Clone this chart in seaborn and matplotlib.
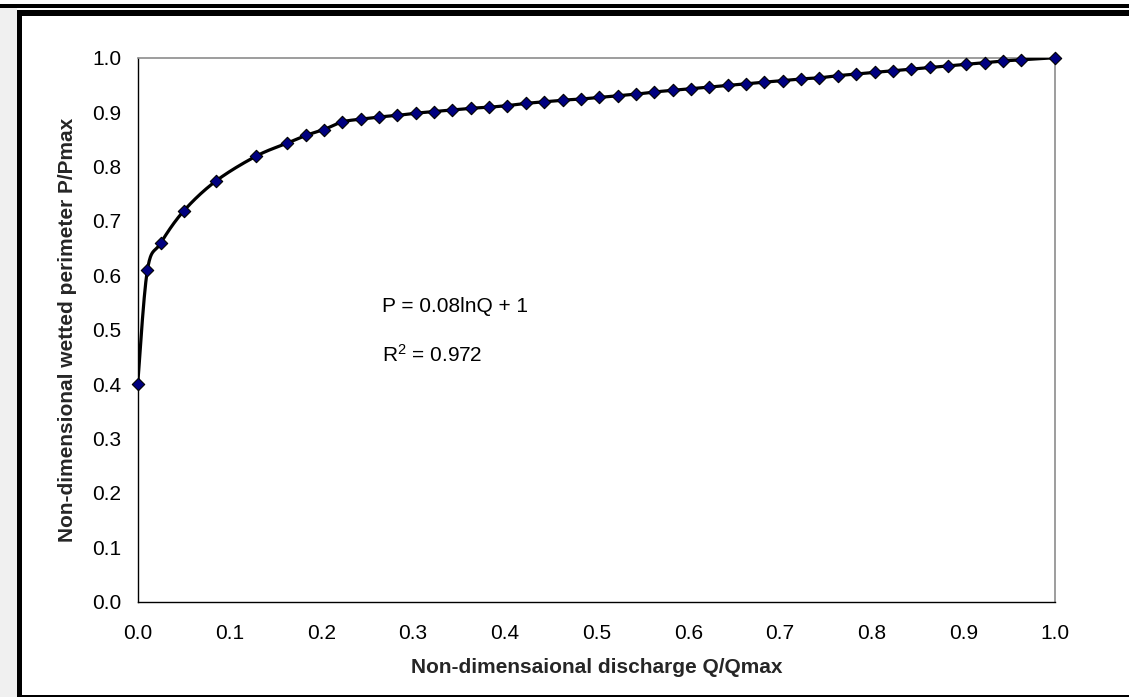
import numpy as np
import pandas as pd
import matplotlib
matplotlib.use("Agg")
import matplotlib.pyplot as plt
from matplotlib.patches import Rectangle
import seaborn as sns

# ---- data ----
q_values = [0.0, 0.0105, 0.025, 0.05, 0.085, 0.129,
            0.163, 0.183, 0.203, 0.223, 0.243, 0.263, 0.283, 0.303,
            0.323, 0.343, 0.363, 0.383, 0.403, 0.423, 0.443, 0.463,
            0.483, 0.503, 0.523, 0.543, 0.563, 0.583, 0.603,
            0.623, 0.643, 0.663, 0.683, 0.703, 0.723, 0.743, 0.763,
            0.783, 0.803, 0.823, 0.843, 0.863, 0.883, 0.903, 0.923,
            0.943, 0.963, 1.0]
p_values = [0.400, 0.609, 0.659, 0.718, 0.773, 0.819,
            0.843, 0.857, 0.868, 0.882, 0.887, 0.891, 0.894, 0.898,
            0.901, 0.904, 0.907, 0.909, 0.912, 0.916, 0.919, 0.922,
            0.924, 0.927, 0.930, 0.933, 0.937, 0.940, 0.943,
            0.946, 0.949, 0.952, 0.955, 0.958, 0.961, 0.963, 0.967,
            0.970, 0.973, 0.976, 0.979, 0.982, 0.985, 0.988, 0.991,
            0.994, 0.996, 1.000]
tick_values = [0.0, 0.1, 0.2, 0.3, 0.4, 0.5, 0.6, 0.7, 0.8, 0.9, 1.0]
tick_labels = ["0.0", "0.1", "0.2", "0.3", "0.4", "0.5", "0.6", "0.7", "0.8", "0.9", "1.0"]
x_label = "Non-dimensaional discharge Q/Qmax"
y_label = "Non-dimensional wetted perimeter P/Pmax"
eq_text = "P = 0.08lnQ + 1"
r2_text = "R$^2$ = 0.972"

sns.set_theme(style="white")
plt.rcParams["font.family"] = ["Liberation Sans", "DejaVu Sans"]
plt.rcParams["mathtext.default"] = "regular"

df = pd.DataFrame({"Q": q_values, "P": p_values})

# Excel-like smoothed line (Catmull-Rom Bezier through the points)
def smooth(xs, ys, n=30):
    pts = np.column_stack([xs, ys])
    out = []
    m = len(pts)
    for i in range(m - 1):
        p0 = pts[max(i - 1, 0)]
        p1 = pts[i]
        p2 = pts[i + 1]
        p3 = pts[min(i + 2, m - 1)]
        c1 = p1 + (p2 - p0) / 6.0
        c2 = p2 - (p3 - p1) / 6.0
        t = np.linspace(0, 1, n, endpoint=(i == m - 2))[:, None]
        seg = ((1 - t) ** 3) * p1 + 3 * ((1 - t) ** 2) * t * c1 + 3 * (1 - t) * t ** 2 * c2 + t ** 3 * p2
        out.append(seg)
    out = np.vstack(out)
    return out[:, 0], out[:, 1]

sx, sy = smooth(np.array(q_values), np.array(p_values))
curve = pd.DataFrame({"Q": sx, "P": sy})

fig = plt.figure(figsize=(11.29, 6.97), dpi=100)
fig.patch.set_facecolor("white")

# outer frame decorations
fig.patches.append(Rectangle((0, 0), 17 / 1129, 1 - 8 / 697, transform=fig.transFigure,
                             facecolor="#f0f0f0", edgecolor="none", zorder=0))
fig.patches.append(Rectangle((0, 1 - 8 / 697), 1, 4 / 697, transform=fig.transFigure,
                             facecolor="black", edgecolor="none", zorder=1))
fig.patches.append(Rectangle((17 / 1129, 1 - 16 / 697), 1, 6 / 697, transform=fig.transFigure,
                             facecolor="black", edgecolor="none", zorder=1))
fig.patches.append(Rectangle((17 / 1129, 0), 5 / 1129, 1 - 10 / 697, transform=fig.transFigure,
                             facecolor="black", edgecolor="none", zorder=1))
fig.patches.append(Rectangle((17 / 1129, 0), 1, 2 / 697, transform=fig.transFigure,
                             facecolor="black", edgecolor="none", zorder=1))

ax = fig.add_axes([137.7 / 1129, 1 - 601.7 / 697, (1055.3 - 137.7) / 1129, (601.7 - 57.7) / 697])
ax.set_facecolor("white")

sns.lineplot(data=curve, x="Q", y="P", sort=False, estimator=None, color="black",
             linewidth=2.3, ax=ax, zorder=3)
sns.scatterplot(data=df, x="Q", y="P", marker="D", s=40, color="#000080",
                edgecolor="black", linewidth=0.8, ax=ax, zorder=4, clip_on=False)

ax.set_xlim(0, 1)
ax.set_ylim(0, 1)
ax.set_xticks(tick_values)
ax.set_xticklabels(tick_labels)
ax.set_yticks(tick_values)
ax.set_yticklabels(tick_labels)
ax.tick_params(axis="both", which="major", direction="out", length=5, width=1,
               color="black", labelsize=15, labelcolor="black")
ax.tick_params(axis="y", pad=7)
ax.tick_params(axis="x", pad=11)

for side in ["left", "bottom"]:
    ax.spines[side].set_color("black")
    ax.spines[side].set_linewidth(1.0)
for side in ["top", "right"]:
    ax.spines[side].set_color("#8c8c8c")
    ax.spines[side].set_linewidth(1.2)

ax.set_xlabel(x_label, fontsize=15, fontweight="bold", labelpad=11)
ax.set_ylabel(y_label, fontsize=15, fontweight="bold", labelpad=11)

ax.text(0.266, 0.533, eq_text, fontsize=15, color="black", ha="left", va="baseline")
ax.text(0.266, 0.441, r2_text, fontsize=15, color="black", ha="left", va="baseline")

fig.savefig("out.png", dpi=100, facecolor="white")
